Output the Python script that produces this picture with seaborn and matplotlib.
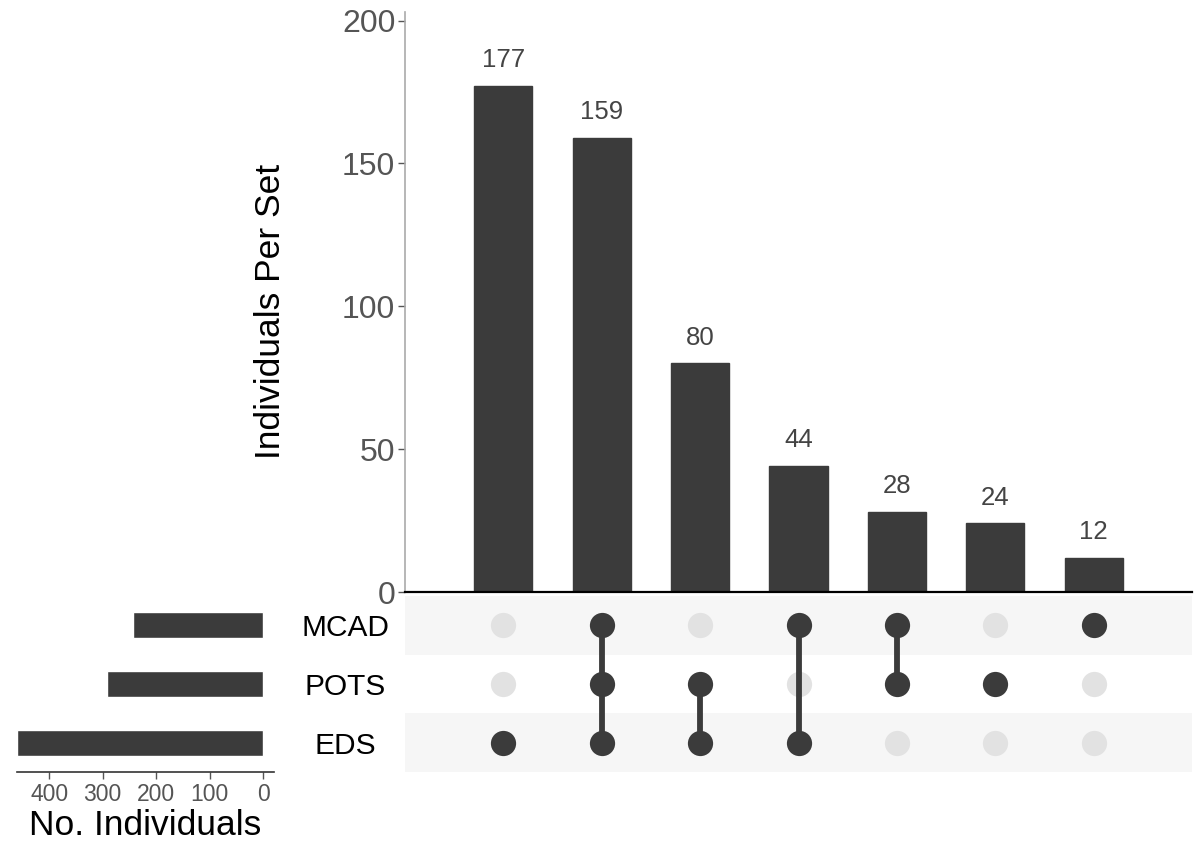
import numpy as np
import pandas as pd
import matplotlib
matplotlib.use("Agg")
import matplotlib.pyplot as plt
import seaborn as sns

# data
set_names = ["MCAD", "POTS", "EDS"]
set_sizes = [243, 291, 460]
combo_counts = [177, 159, 80, 44, 28, 24, 12]
combo_members = [
    ["EDS"],
    ["MCAD", "POTS", "EDS"],
    ["POTS", "EDS"],
    ["MCAD", "EDS"],
    ["MCAD", "POTS"],
    ["POTS"],
    ["MCAD"],
]

dark = "#3b3b3b"
grey_dot = "#e2e2e2"
tick_grey = "#555555"

sns.set_theme(style="white")
plt.rcParams["font.family"] = ["Liberation Sans", "DejaVu Sans"]

W, H = 1199, 842
fig = plt.figure(figsize=(W / 100, H / 100), dpi=100)


def px_axes(x0, y0, x1, y1):
    # pixel box (top-left origin) -> figure axes
    return fig.add_axes([x0 / W, 1 - y1 / H, (x1 - x0) / W, (y1 - y0) / H])


ax_bar = px_axes(405, 12, 1192, 592)
ax_mat = px_axes(405, 596, 1192, 772)
ax_set = px_axes(17, 596, 274, 772)

# intersection bars
combo_df = pd.DataFrame({"combo": [str(i) for i in range(len(combo_counts))],
                         "count": combo_counts})
sns.barplot(data=combo_df, x="combo", y="count", color=dark, width=0.59,
            saturation=1, ax=ax_bar)
for p in ax_bar.patches:
    p.set_edgecolor(dark)
ax_bar.bar_label(ax_bar.containers[0], padding=10, fontsize=18.5, color="#444444")
ax_bar.set_xlim(-1, 7)
ax_bar.set_ylim(0, 203)
ax_bar.set_yticks([0, 50, 100, 150, 200])
ax_bar.tick_params(axis="y", labelsize=23, colors=tick_grey, length=5, width=1,
                   left=True, pad=2)
ax_bar.tick_params(axis="x", bottom=False, labelbottom=False)
ax_bar.set_xlabel("")
ax_bar.set_ylabel("Individuals Per Set", fontsize=25.5, color="black")
ax_bar.yaxis.set_label_coords(-0.150, 0.483)
for s in ["top", "right"]:
    ax_bar.spines[s].set_visible(False)
ax_bar.spines["left"].set_color("#aaaaaa")
ax_bar.spines["left"].set_linewidth(1.2)
ax_bar.spines["bottom"].set_color("black")
ax_bar.spines["bottom"].set_linewidth(1.6)

# matrix of dots
rows = []
for i, members in enumerate(combo_members):
    for j, name in enumerate(set_names):
        rows.append({"x": i, "y": j, "on": name in members})
mat_df = pd.DataFrame(rows)

for j in range(len(set_names)):
    if j % 2 == 0:
        ax_mat.axhspan(j - 0.5, j + 0.5, color="#f6f6f6", zorder=0, lw=0)

for i, members in enumerate(combo_members):
    ys = [set_names.index(m) for m in members]
    if len(ys) > 1:
        ax_mat.plot([i, i], [min(ys), max(ys)], color=dark, lw=4.2, zorder=2,
                    solid_capstyle="butt")

sns.scatterplot(data=mat_df[~mat_df["on"]], x="x", y="y", color=grey_dot,
                s=330, linewidth=0, ax=ax_mat, zorder=1)
sns.scatterplot(data=mat_df[mat_df["on"]], x="x", y="y", color=dark,
                s=330, linewidth=0, ax=ax_mat, zorder=3)
ax_mat.set_xlim(-1, 7)
ax_mat.set_ylim(2.5, -0.5)
ax_mat.set_xticks([])
ax_mat.set_yticks(range(len(set_names)))
ax_mat.set_yticklabels(set_names, fontsize=21.5, color="black", ha="center")
ax_mat.tick_params(axis="y", length=0, pad=43)
ax_mat.set_xlabel("")
ax_mat.set_ylabel("")
for s in ax_mat.spines.values():
    s.set_visible(False)

# set size bars
set_df = pd.DataFrame({"set": set_names, "size": set_sizes})
sns.barplot(data=set_df, x="size", y="set", orient="h", color=dark, width=0.44,
            saturation=1, ax=ax_set)
ax_set.set_xlim(460, -20)
ax_set.set_ylim(2.5, -0.5)
ax_set.set_xticks([400, 300, 200, 100, 0])
ax_set.tick_params(axis="x", labelsize=16.5, colors=tick_grey, length=5, width=1,
                   bottom=True, pad=3)
ax_set.tick_params(axis="y", left=False, labelleft=False)
ax_set.set_ylabel("")
ax_set.set_xlabel("No. Individuals", fontsize=25.5, color="black", labelpad=2)
for s in ["top", "right", "left"]:
    ax_set.spines[s].set_visible(False)
ax_set.spines["bottom"].set_color("#333333")
ax_set.spines["bottom"].set_linewidth(1.2)

fig.savefig("out.png", dpi=100)
